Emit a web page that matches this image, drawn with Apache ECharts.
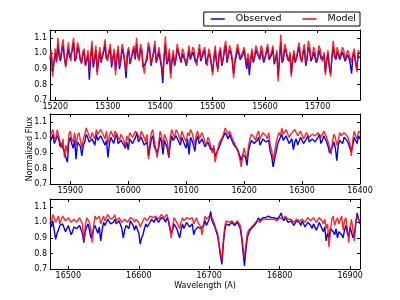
<!DOCTYPE html>
<html><head><meta charset="utf-8">
<script src="https://cdn.jsdelivr.net/npm/echarts@6/dist/echarts.min.js"></script>
<style>html,body{margin:0;padding:0;background:#fff}#c{width:400px;height:300px}</style>
</head><body><div id="c"></div>
<script>
// Panel 1: 15190..15780 A, sampled every 2.5 A
const wl1Start = 15190, wl1Step = 2.5;
const model1 = [
0.97,1.02,0.85,0.95,1.03,0.94,1.10,1.01,0.96,1.04,1.09,0.98,0.91,1.00,1.07,0.99,0.95,1.05,1.10,0.96,
0.98,1.07,1.04,0.97,0.93,1.01,1.03,0.94,0.96,1.02,0.88,0.99,1.08,0.93,0.97,1.05,0.86,0.97,1.04,0.95,
0.99,1.03,1.09,0.98,0.95,1.02,1.06,0.93,0.98,1.03,0.86,0.99,1.05,0.92,0.97,1.06,1.02,0.95,0.88,1.01,
1.04,0.94,0.96,1.02,1.05,0.97,1.10,1.00,0.95,1.06,1.03,0.92,0.87,0.95,0.99,1.07,1.04,0.93,0.96,1.02,
1.08,0.95,0.98,1.04,1.03,0.93,0.86,0.99,1.11,0.94,0.97,1.03,0.84,0.96,1.02,0.93,0.97,1.06,1.05,0.98,
0.95,1.03,1.01,0.96,0.93,0.99,1.05,0.97,0.98,1.04,1.02,0.95,0.92,1.00,1.06,0.96,0.97,1.02,1.04,0.94,
0.92,1.03,1.00,0.94,0.86,0.98,1.05,0.95,0.88,1.01,1.04,0.93,0.97,1.04,1.08,0.95,0.96,1.05,1.02,0.97,
0.84,0.96,1.01,1.06,1.05,0.97,0.96,1.01,1.04,0.98,0.93,1.00,0.90,0.97,1.03,0.95,0.98,1.05,1.04,0.99,
0.97,1.05,1.03,0.95,0.98,1.02,1.06,0.97,0.96,1.01,1.05,0.94,0.97,1.02,0.82,0.98,1.12,0.95,0.97,1.06,
1.03,0.98,0.95,1.01,0.85,0.96,1.02,0.95,0.97,1.03,1.07,0.98,0.94,1.02,1.06,0.93,0.97,1.08,1.05,0.96,
0.98,1.04,1.02,0.95,0.97,1.05,1.03,0.97,0.95,1.01,0.86,0.96,1.02,0.92,0.85,0.99,1.08,1.00,0.97,1.04,
1.03,0.97,0.96,1.04,1.02,0.96,0.95,1.02,1.01,0.97,0.94,1.00,1.03,0.95,0.88,1.02,1.00];
const obs1 = [
0.96,0.99,0.88,0.94,1.00,0.95,1.06,0.98,0.95,1.01,1.05,0.97,0.92,0.98,1.03,0.97,0.96,1.02,1.07,0.95,
0.97,1.04,1.02,0.96,0.94,0.99,1.01,0.92,0.93,0.99,0.83,0.97,1.04,0.91,0.96,1.02,0.88,0.95,1.01,0.94,
0.98,1.01,1.06,0.96,0.96,1.00,1.03,0.91,0.97,1.00,0.89,0.97,1.02,0.90,0.95,1.03,1.00,0.94,0.84,0.99,
1.02,0.93,0.97,1.00,1.03,0.96,1.06,0.98,0.96,1.03,1.01,0.91,0.90,0.94,0.96,1.04,1.02,0.92,0.97,1.00,
1.05,0.94,0.97,1.01,1.00,0.91,0.81,0.97,1.06,0.93,0.95,1.00,0.87,0.95,0.99,0.92,0.96,1.03,1.03,0.97,
0.94,1.00,1.00,0.95,0.92,0.97,1.02,0.96,0.97,1.01,1.01,0.94,0.93,0.98,1.03,0.95,0.96,1.00,1.02,0.93,
0.93,1.00,0.98,0.93,0.88,0.96,1.02,0.94,0.90,0.99,1.02,0.92,0.96,1.01,1.05,0.94,0.95,1.02,1.00,0.95,
0.87,0.94,0.98,1.03,1.03,0.96,0.95,0.99,1.02,0.96,0.90,0.97,0.86,0.95,1.01,0.94,0.97,1.02,1.02,0.98,
0.96,1.02,1.01,0.94,0.97,1.00,1.04,0.96,0.96,0.99,1.03,0.93,0.96,1.00,0.85,0.96,1.07,0.94,0.96,1.03,
1.01,0.97,0.95,0.99,0.87,0.95,1.00,0.94,0.97,1.01,1.04,0.97,0.95,1.00,1.03,0.92,0.96,1.04,1.02,0.95,
0.97,1.01,1.00,0.94,0.96,1.02,1.02,0.96,0.95,0.99,0.88,0.95,1.00,0.91,0.87,0.97,1.04,0.98,0.96,1.01,
1.01,0.96,0.96,1.01,1.00,0.95,0.94,0.99,0.97,0.93,0.87,0.98,1.00,0.94,0.90,0.99,0.97];

// Panel 2: 15865..16400 A, every 2.5 A
const wl2Start = 15865, wl2Step = 2.5;
const model2 = [
1.00,1.03,1.05,1.00,0.98,1.05,1.04,0.97,0.93,0.99,0.87,0.95,0.90,1.02,1.04,0.99,0.97,1.03,0.95,1.01,
1.03,0.98,0.93,0.99,1.02,1.06,1.05,1.01,0.99,1.03,1.04,0.99,1.05,1.02,1.01,1.05,1.05,1.01,0.99,1.04,
0.96,1.01,1.04,1.02,1.00,1.04,1.05,1.00,0.98,1.02,1.03,0.98,0.94,1.01,0.98,1.03,1.04,1.00,1.00,1.04,
1.05,1.01,0.99,1.04,1.04,1.00,0.97,1.02,0.86,0.97,1.03,1.05,0.98,0.99,0.87,0.96,1.04,1.01,0.94,1.02,
1.02,0.97,0.88,1.00,1.05,1.02,1.00,1.05,1.04,1.01,0.98,1.04,1.03,0.99,0.97,1.03,1.01,1.05,1.03,0.99,
0.95,1.02,1.04,0.99,1.00,1.03,1.02,0.97,0.95,1.00,0.98,0.94,0.90,0.95,0.84,0.89,0.93,0.97,0.98,1.00,
1.03,1.06,1.05,1.02,1.04,1.05,0.99,0.97,0.95,0.96,0.90,0.86,0.81,0.88,0.93,0.89,0.86,0.94,0.99,1.02,
1.03,1.00,0.98,1.02,1.04,0.99,1.01,1.03,1.04,1.01,0.99,1.03,0.95,0.92,0.85,0.90,0.96,1.00,1.03,1.01,
1.06,1.02,1.01,1.05,1.04,1.00,0.99,1.03,1.02,1.05,1.04,1.01,1.00,1.04,1.03,0.99,1.01,1.03,1.04,1.00,
0.99,1.02,1.03,1.01,1.00,1.03,1.04,1.00,1.01,1.04,1.03,1.00,0.97,0.94,0.89,0.97,1.02,1.00,0.95,0.98,
1.03,1.01,1.00,1.03,1.04,1.01,0.99,0.96,0.88,0.98,1.04,1.01,0.99,1.04,1.03];
const obs2 = [
0.97,0.99,1.02,0.96,0.95,1.01,0.99,0.94,0.96,0.95,0.90,0.91,0.84,0.97,1.00,0.96,0.93,0.98,0.86,0.97,
0.98,0.94,0.88,0.95,0.97,1.02,1.00,0.97,0.96,0.99,1.00,0.95,1.02,0.98,0.97,1.01,1.01,0.97,0.95,0.98,
0.87,0.96,1.00,0.98,0.96,1.00,1.02,0.96,0.95,0.98,0.98,0.95,0.93,0.97,0.92,0.99,1.00,0.96,0.97,1.00,
1.03,0.97,0.96,1.00,1.00,0.95,0.94,0.97,0.88,0.93,0.99,1.01,0.94,0.95,0.90,0.93,1.00,0.97,0.89,0.98,
0.98,0.93,0.87,0.96,1.01,0.98,0.97,1.01,1.01,0.97,0.95,1.00,1.00,0.95,0.93,0.99,0.89,1.00,0.98,0.95,
0.91,0.98,1.01,0.96,0.97,0.99,0.99,0.94,0.94,0.97,0.96,0.92,0.91,0.93,0.88,0.90,0.92,0.94,0.97,0.98,
1.01,1.03,1.03,0.99,1.02,1.02,0.97,0.95,0.94,0.93,0.91,0.88,0.85,0.89,0.90,0.87,0.82,0.91,0.95,0.98,
0.99,0.96,0.95,0.98,1.00,0.95,0.97,0.99,1.00,0.97,0.96,0.98,0.91,0.88,0.81,0.86,0.90,0.95,0.98,0.97,
1.02,0.98,0.97,1.01,1.00,0.96,0.95,0.99,0.92,0.97,0.99,0.95,0.96,1.00,0.99,0.96,0.97,0.99,1.01,0.97,
0.96,0.99,1.00,0.97,0.97,1.00,1.02,0.96,0.98,1.01,1.00,0.97,0.94,0.90,0.91,0.94,0.97,0.93,0.85,0.95,
0.98,0.97,0.96,1.00,1.01,0.98,0.96,0.93,0.91,0.95,1.00,0.98,0.96,1.01,0.99];

// Panel 3: 16474..16914 A, every 2 A
const wl3Start = 16474, wl3Step = 2;
const model3 = [
1.02,1.00,1.05,1.03,1.00,1.02,1.04,0.99,1.02,1.04,1.05,1.01,1.01,1.03,1.04,1.00,0.99,1.02,1.03,1.00,
1.01,1.03,1.04,0.99,0.88,0.97,1.03,1.02,1.00,0.95,0.87,0.98,1.04,1.02,1.01,1.04,0.99,1.02,1.04,1.01,
1.02,1.05,1.04,1.02,1.01,1.03,1.05,1.01,1.02,1.03,1.04,1.00,0.99,1.02,1.03,1.00,1.01,1.03,1.04,1.02,
1.00,1.02,1.03,1.00,0.97,0.99,1.01,1.03,1.04,1.01,1.02,1.04,1.05,1.03,1.02,1.04,1.05,1.02,1.03,1.05,
1.06,1.03,1.02,1.05,1.04,0.98,0.90,0.97,1.03,1.02,1.00,0.98,0.96,1.00,1.03,1.01,1.01,1.03,1.04,1.02,
1.01,1.03,0.99,1.01,1.03,1.00,1.01,0.97,0.92,0.99,1.04,1.02,1.02,1.04,1.05,1.03,1.01,0.98,0.95,0.93,
0.86,0.80,0.75,0.88,0.97,1.01,1.02,1.00,0.99,1.01,1.02,0.99,1.00,1.01,1.02,0.98,0.92,0.84,0.77,0.85,
0.93,0.95,0.96,0.97,0.98,0.99,1.00,1.01,1.02,1.00,1.01,1.02,1.03,1.02,1.01,1.02,1.03,1.02,1.01,1.02,
1.03,1.01,1.02,1.03,1.04,1.02,1.02,1.04,1.03,1.02,1.01,1.02,1.03,1.00,1.01,1.02,1.03,1.01,1.00,1.02,
1.02,1.00,1.01,1.03,1.03,1.01,1.00,1.03,1.02,1.00,1.01,1.03,1.03,1.01,0.99,1.02,0.96,0.99,0.84,0.95,
1.02,1.04,0.98,1.01,1.03,0.99,1.00,1.04,0.95,1.01,1.03,0.96,0.87,0.97,1.02,0.95,0.88,1.01,1.04,1.02,
1.00];
const obs3 = [
1.00,0.97,1.01,0.95,0.89,0.93,0.95,0.98,0.97,0.99,1.00,0.94,0.96,0.98,0.99,0.92,0.94,0.97,0.98,0.96,
0.95,0.98,0.99,0.93,0.87,0.94,0.97,0.99,0.95,0.90,0.92,0.96,0.98,0.95,0.93,0.97,0.88,0.95,1.00,0.98,
0.99,1.02,1.01,0.99,0.98,1.00,1.02,0.99,0.98,1.01,1.00,0.96,0.90,0.95,0.98,0.97,0.96,1.01,1.00,0.98,
0.95,0.98,0.97,0.93,0.86,0.90,0.92,0.96,0.99,0.97,0.97,1.00,1.02,1.01,1.00,1.03,1.03,1.00,1.01,1.03,
1.04,1.02,1.00,1.03,1.01,0.96,0.93,0.95,0.99,0.98,0.96,0.93,0.90,0.95,0.99,0.96,0.97,1.00,1.00,0.97,
0.96,0.99,0.92,0.95,0.94,0.97,0.98,0.96,0.95,0.98,1.01,0.98,0.99,1.02,1.07,1.01,0.99,0.97,0.94,0.91,
0.85,0.78,0.73,0.86,0.95,0.99,1.00,0.98,0.97,1.00,1.01,0.98,0.99,1.00,1.01,0.96,0.90,0.81,0.72,0.82,
0.90,0.93,0.95,0.96,0.97,0.98,0.99,1.01,1.03,1.01,1.02,1.03,1.04,1.03,1.02,1.04,1.05,1.03,1.02,1.03,
1.04,1.02,1.03,1.04,1.06,1.03,1.01,1.03,1.02,1.00,1.00,1.01,1.02,0.98,0.99,1.01,1.02,1.00,0.98,1.01,
1.00,0.97,0.98,1.00,1.01,0.98,0.96,0.99,0.99,0.95,0.97,1.00,1.00,0.96,0.94,0.97,0.88,0.93,0.90,0.96,
0.97,0.94,0.92,0.96,0.90,0.94,0.95,0.92,0.90,0.95,0.98,0.93,0.91,0.97,0.96,0.90,0.92,0.99,1.06,1.02,
0.99];

// Axis ranges and tick labels
const xRanges = [[15190, 15781], [15865, 16400], [16474, 16914]];
const xTicks = [
  [15200, 15300, 15400, 15500, 15600, 15700],
  [15900, 16000, 16100, 16200, 16300, 16400],
  [16500, 16600, 16700, 16800, 16900]
];
const yTicks = [0.7, 0.8, 0.9, 1.0, 1.1];
const yRange = [0.7, 1.15];
const seriesNames = ['Observed', 'Model'];
const yTitle = 'Normalized Flux';
const xTitle = 'Wavelength (A)';

const FONT = 'DejaVu Sans';
const tops = [30, 114, 199];
const panels = [
  {start: wl1Start, step: wl1Step, obs: obs1, model: model1},
  {start: wl2Start, step: wl2Step, obs: obs2, model: model2},
  {start: wl3Start, step: wl3Step, obs: obs3, model: model3}
];
function pairs(start, step, vals) { return vals.map((v, i) => [start + i * step, v]); }

const lineStyleAxis = {color: '#000', width: 1};
const grid = [], xAxis = [], yAxis = [], series = [];
panels.forEach((p, k) => {
  grid.push({left: 50, width: 310, top: tops[k], height: 70});
  ['bottom', 'top'].forEach((pos, j) => {
    const ax = {
      type: 'value', gridIndex: k, position: pos,
      min: xRanges[k][0], max: xRanges[k][1],
      axisLine: {show: true, onZero: false, lineStyle: lineStyleAxis},
      axisTick: {show: true, inside: true, length: 3, customValues: xTicks[k], lineStyle: lineStyleAxis},
      axisLabel: {show: j === 0, customValues: xTicks[k], fontSize: 8, fontFamily: FONT, color: '#000', margin: 3,
                  formatter: v => String(v)},
      splitLine: {show: false}
    };
    if (k === 2 && j === 0) {
      ax.name = xTitle; ax.nameLocation = 'middle'; ax.nameGap = 13; ax.nameMoveOverlap = false;
      ax.nameTextStyle = {fontSize: 8, fontFamily: FONT, color: '#000'};
    }
    xAxis.push(ax);
  });
  ['left', 'right'].forEach((pos, j) => {
    const ay = {
      type: 'value', gridIndex: k, position: pos,
      min: yRange[0], max: yRange[1],
      axisLine: {show: true, onZero: false, lineStyle: lineStyleAxis},
      axisTick: {show: true, inside: true, length: 3, customValues: yTicks, lineStyle: lineStyleAxis},
      axisLabel: {show: j === 0, customValues: yTicks, fontSize: 8, fontFamily: FONT, color: '#000', margin: 3,
                  formatter: v => v.toFixed(1)},
      splitLine: {show: false}
    };
    if (k === 1 && j === 0) {
      ay.name = yTitle; ay.nameLocation = 'middle'; ay.nameGap = 16; ay.nameMoveOverlap = false;
      ay.nameTextStyle = {fontSize: 8, fontFamily: FONT, color: '#000'};
    }
    yAxis.push(ay);
  });
  series.push({
    name: seriesNames[0], type: 'line', xAxisIndex: 2 * k, yAxisIndex: 2 * k,
    data: pairs(p.start, p.step, p.obs), showSymbol: false, symbol: 'none',
    lineStyle: {color: '#0000ff', width: 1.4}, itemStyle: {color: '#0000ff'}, z: 2
  });
  series.push({
    name: seriesNames[1], type: 'line', xAxisIndex: 2 * k, yAxisIndex: 2 * k,
    data: pairs(p.start, p.step, p.model), showSymbol: false, symbol: 'none',
    lineStyle: {color: '#ff0000', width: 1.4, opacity: 0.85}, itemStyle: {color: '#ff0000'}, z: 3
  });
});

const chart = echarts.init(document.getElementById('c'), null, {renderer: 'canvas'});
chart.setOption({
  animation: false,
  backgroundColor: '#fff',
  grid, xAxis, yAxis, series,
  legend: {
    data: seriesNames, right: 40, top: 12,
    icon: 'rect', itemWidth: 14, itemHeight: 1.5, itemGap: 21,
    padding: [2, 4, 2, 7],
    borderColor: '#000', borderWidth: 1,
    textStyle: {fontSize: 9.5, fontFamily: FONT, color: '#000', padding: [0, 0, 0, 6]}
  }
});
</script>
</body></html>
